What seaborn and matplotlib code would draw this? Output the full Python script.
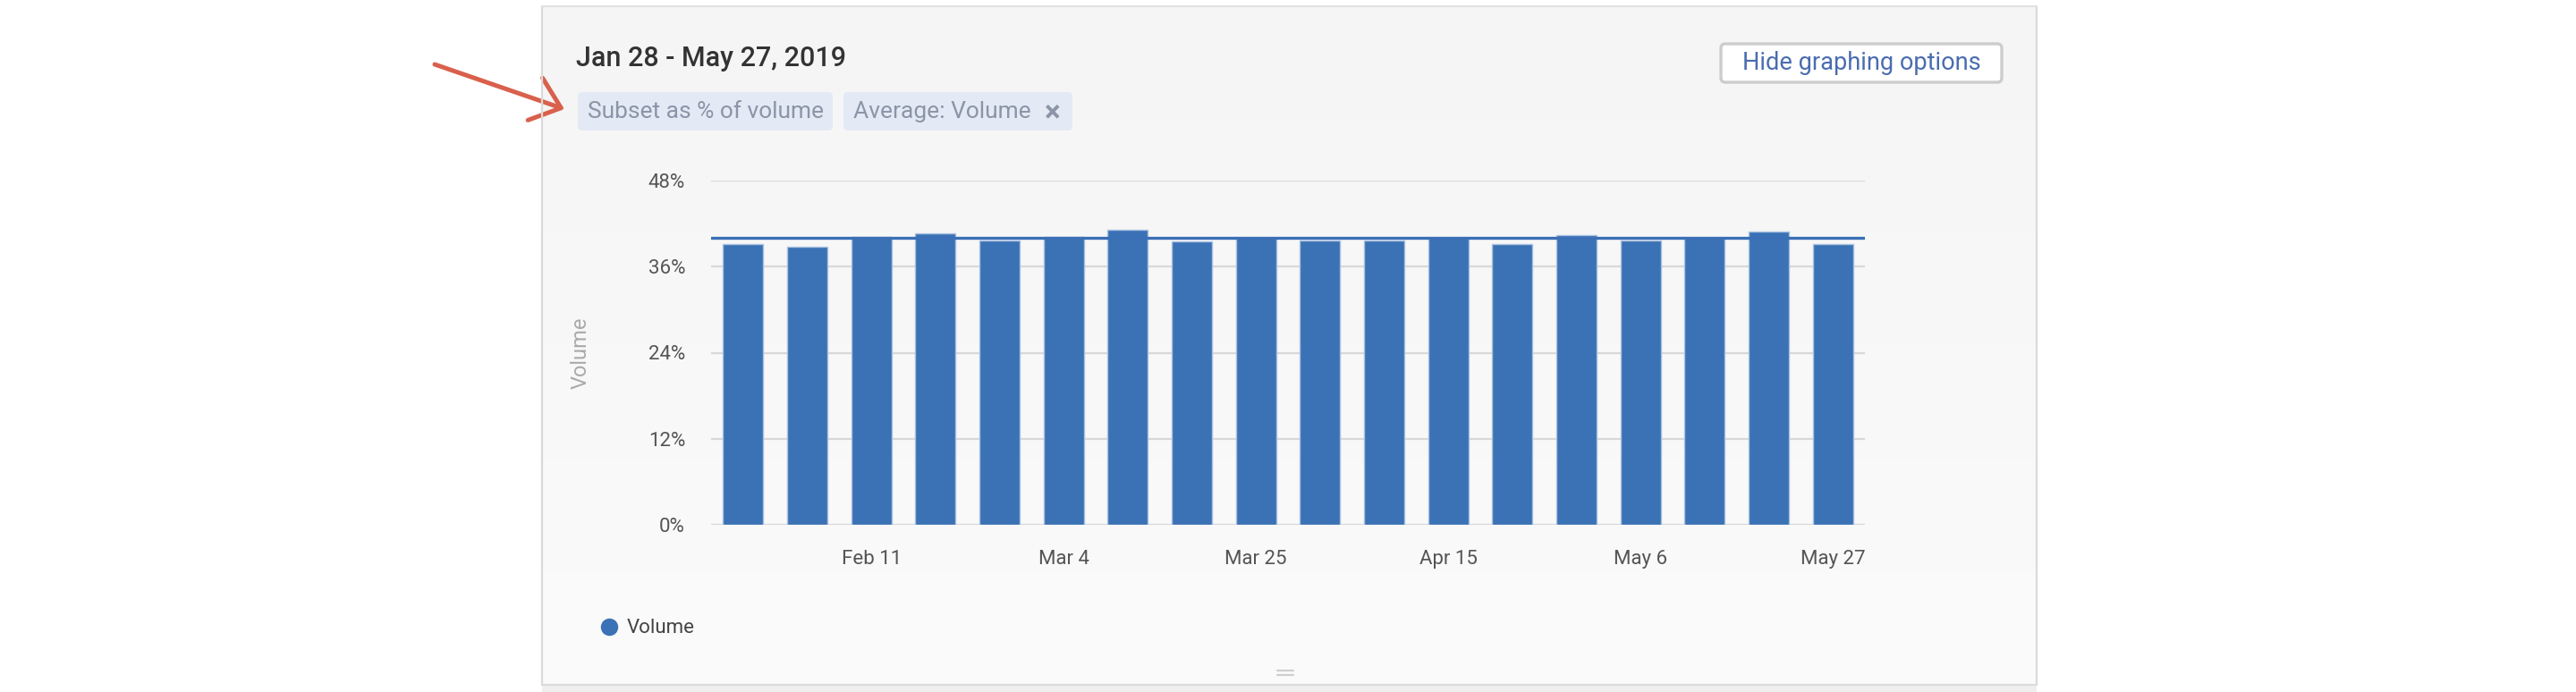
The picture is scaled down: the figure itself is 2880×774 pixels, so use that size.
import numpy as np
import pandas as pd
import seaborn as sns
from matplotlib import pyplot as plt
from matplotlib.patches import FancyBboxPatch, Rectangle, FancyArrowPatch
from matplotlib.lines import Line2D
from matplotlib.colors import LinearSegmentedColormap

# weekly subset share of volume (%)
weeks = ["Jan 28", "Feb 4", "Feb 11", "Feb 18", "Feb 25", "Mar 4", "Mar 11", "Mar 18",
         "Mar 25", "Apr 1", "Apr 8", "Apr 15", "Apr 22", "Apr 29", "May 6", "May 13",
         "May 20", "May 27"]
volume_pct = [39.2, 38.8, 40.1, 40.7, 39.7, 40.1, 41.2, 39.5, 40.0,
              39.7, 39.7, 40.0, 39.2, 40.4, 39.7, 40.0, 40.9, 39.2]
avg_volume = 40.05
y_ticks = [0, 12, 24, 36, 48]
label_every = 3

bar_blue = "#3a72b5"
line_blue = "#3b6fb6"

sns.set_theme(style="white")
plt.rcParams["font.family"] = ["Roboto", "DejaVu Sans"]

W, H = 2880, 774
fig = plt.figure(figsize=(W / 200, H / 200), dpi=200)
fig.patch.set_facecolor("white")

# decoration layer in pixel coords
bg = fig.add_axes([0, 0, 1, 1], zorder=0)
cmap = LinearSegmentedColormap.from_list("card", ["#f5f5f5", "#fbfbfb"])
grad = np.linspace(0, 1, 256).reshape(-1, 1)
bg.imshow(grad, extent=(607, 2277, 765, 8), cmap=cmap, aspect="auto", zorder=0)
bg.set_xlim(0, W)
bg.set_ylim(H, 0)
bg.axis("off")

bg.plot([606, 606], [7, 766], color="#dadada", lw=0.8)
bg.plot([2277, 2277], [7, 766], color="#dadada", lw=0.8)
bg.plot([606, 2277], [7, 7], color="#e2e2e2", lw=0.8)
bg.add_patch(Rectangle((606, 766), 1671, 8, fc="#efefef", ec="none"))
bg.plot([606, 2277], [766, 766], color="#dcdcdc", lw=0.8)
bg.plot([1428, 1446], [750, 750], color="#cfcfcf", lw=0.8)
bg.plot([1428, 1446], [755, 755], color="#cfcfcf", lw=0.8)

bg.text(644, 65, "Jan 28 - May 27, 2019", fontsize=11, fontweight="medium",
        color="#333333", va="center", ha="left")

tag_fc = "#e3eaf5"
tag_tc = "#8b95a7"
bg.add_patch(FancyBboxPatch((646, 103), 285, 43, boxstyle="round,pad=0,rounding_size=5",
                            fc=tag_fc, ec="none"))
bg.text(657, 125, "Subset as % of volume", fontsize=9.5, color=tag_tc, va="center")
bg.add_patch(FancyBboxPatch((943, 103), 256, 43, boxstyle="round,pad=0,rounding_size=5",
                            fc=tag_fc, ec="none"))
bg.text(954, 125, "Average: Volume", fontsize=9.5, color=tag_tc, va="center")
bg.text(1177, 126, "\u00d7", fontsize=12, fontweight="bold", color=tag_tc,
        va="center", ha="center")

bg.add_patch(FancyBboxPatch((1924, 49), 314, 43, boxstyle="round,pad=0,rounding_size=5",
                            fc="white", ec="#cccccc", lw=1.2))
bg.text(2081, 71, "Hide graphing options", fontsize=9.8, fontweight="normal",
        color="#4a6cb0", va="center", ha="center")

bg.add_patch(FancyArrowPatch((486, 72), (631, 122),
                             arrowstyle="->,head_length=11,head_width=9",
                             mutation_scale=1, color="#d9604c", lw=1.8,
                             shrinkA=0, shrinkB=0))

# chart
ax = fig.add_axes([795 / W, 1 - 587 / H, (2085 - 795) / W, (587 - 202) / H], zorder=1)
ax.patch.set_alpha(0)
sns.barplot(x=weeks, y=volume_pct, color=bar_blue, saturation=1, width=0.63,
            edgecolor="#a9c0e0", linewidth=0.5, ax=ax, zorder=2)
ax.axhline(avg_volume, color=line_blue, lw=1.2, zorder=3)

ax.set_xlim(-0.5, len(weeks) - 0.5)
ax.set_ylim(0, 48)
ax.set_yticks(y_ticks)
ax.set_yticklabels([f"{v}%" for v in y_ticks])
tick_idx = list(range(2, len(weeks), label_every))
ax.set_xticks(tick_idx)
ax.set_xticklabels([weeks[i] for i in tick_idx])
ax.grid(axis="y", color="#d8d8d8", lw=0.8)
ax.set_axisbelow(True)
for s in ax.spines.values():
    s.set_visible(False)
ax.tick_params(axis="y", length=0, pad=10.4, labelsize=8, labelcolor="#555555")
ax.tick_params(axis="x", length=0, pad=10, labelsize=8, labelcolor="#555555")
ax.set_xlabel("")
ax.set_ylabel("Volume", fontsize=8.5, color="#aaaaaa")
ax.yaxis.set_label_coords(-0.104, 0.5)

fig.legend(handles=[Line2D([0], [0], marker="o", ls="none", markersize=6,
                           markerfacecolor=bar_blue, markeredgecolor=bar_blue)],
           labels=["Volume"], loc="center left", bbox_to_anchor=(672 / W, 1 - 703 / H),
           frameon=False, fontsize=8, handlelength=0.8, handletextpad=0.5,
           borderpad=0, borderaxespad=0, labelcolor="#444444")

fig.savefig("out.png", dpi=200)
